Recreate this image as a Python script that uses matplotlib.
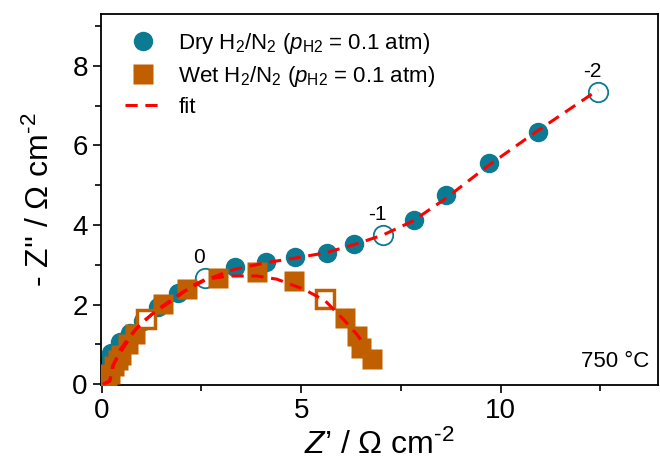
import matplotlib
matplotlib.use("Agg")
import matplotlib.pyplot as plt
from matplotlib.ticker import MultipleLocator

plt.rcParams['font.family'] = ['Liberation Sans', 'DejaVu Sans']
plt.rcParams['mathtext.fontset'] = 'custom'
plt.rcParams['mathtext.rm'] = 'Liberation Sans'
plt.rcParams['mathtext.it'] = 'Liberation Sans:italic'

# Nyquist data at 750 °C (Z' and -Z'' in ohm cm^2)
dry_x = [0.0, 0.03, 0.1, 0.22, 0.45, 0.70, 1.04, 1.41, 1.92, 2.59, 3.34, 4.12,
         4.85, 5.65, 6.33, 7.05, 7.84, 8.64, 9.72, 10.95, 12.44]
dry_y = [0.05, 0.25, 0.5, 0.78, 1.05, 1.3, 1.59, 1.95, 2.3, 2.67, 2.94, 3.08,
         3.2, 3.3, 3.52, 3.76, 4.12, 4.75, 5.55, 6.35, 7.35]
dry_open = [9, 15, 20]           # decade markers (log f = 0, -1, -2)
dry_decades = ['0', '-1', '-2']

wet_x = [0.05, 0.12, 0.2, 0.3, 0.4, 0.49, 0.66, 0.83, 1.12, 1.54, 2.13, 2.92,
         3.89, 4.81, 5.6, 6.1, 6.4, 6.5, 6.78]
wet_y = [0.02, 0.08, 0.25, 0.45, 0.6, 0.73, 1.0, 1.26, 1.63, 2.01, 2.39, 2.68,
         2.81, 2.6, 2.14, 1.67, 1.21, 0.92, 0.63]
wet_open = [8, 14]

fit_dry_x = [0.03, 0.2, 0.3, 0.45, 0.7, 1.0, 1.5, 2.0, 2.6, 3.3, 4.1, 4.9, 5.6,
             6.3, 7.05, 7.8, 8.6, 9.7, 10.9, 12.45]
fit_dry_y = [0.0, 0.08, 0.5, 0.85, 1.2, 1.55, 1.95, 2.3, 2.62, 2.88, 3.05, 3.18,
             3.3, 3.5, 3.75, 4.1, 4.65, 5.5, 6.35, 7.4]
fit_wet_x = [0.03, 0.2, 0.27, 0.52, 0.85, 1.26, 1.76, 2.26, 2.6, 3.2, 3.89, 4.39,
             5.06, 5.6, 6.06, 6.4, 6.6]
fit_wet_y = [0.0, 0.08, 0.46, 0.88, 1.38, 1.76, 2.1, 2.47, 2.64, 2.72, 2.72, 2.64,
             2.39, 2.1, 1.63, 1.25, 0.97]

teal = '#0b7b93'
orange = '#bf5f00'

fig = plt.figure(figsize=(6.6, 4.73), dpi=100)
ax = fig.add_axes([0.153, 0.186, 0.844, 0.784])

dry_fill = [i for i in range(len(dry_x)) if i not in dry_open]
wet_fill = [i for i in range(len(wet_x)) if i not in wet_open]

ax.plot([dry_x[i] for i in dry_fill], [dry_y[i] for i in dry_fill], 'o', color=teal,
        ms=14, mec='none', label=r'Dry H$_2$/N$_2$ ($p_{\mathrm{H2}}$ = 0.1 atm)', zorder=2)
ax.plot([dry_x[i] for i in dry_open], [dry_y[i] for i in dry_open], 'o', mfc='white',
        mec=teal, mew=1.3, ms=14, zorder=2)
ax.plot([wet_x[i] for i in wet_fill], [wet_y[i] for i in wet_fill], 's', color=orange,
        ms=14, mec='none', label=r'Wet H$_2$/N$_2$ ($p_{\mathrm{H2}}$ = 0.1 atm)', zorder=3)
ax.plot([wet_x[i] for i in wet_open], [wet_y[i] for i in wet_open], 's', mfc='white',
        mec=orange, mew=2.5, ms=13, zorder=3)

ax.plot(fit_dry_x, fit_dry_y, '--', color='red', lw=2.2, dashes=(4, 2.5), label='fit', zorder=4)
ax.plot(fit_wet_x, fit_wet_y, '--', color='red', lw=2.2, dashes=(4, 2.5), zorder=4)

for i, txt in zip(dry_open, dry_decades):
    ax.annotate(txt, (dry_x[i], dry_y[i]), xytext=(-4, 8), textcoords='offset points',
                ha='center', va='bottom', fontsize=15)

ax.text(0.985, 0.035, '750 °C', transform=ax.transAxes, ha='right', va='bottom', fontsize=16)

ax.set_xlim(-0.02, 13.95)
ax.set_ylim(-0.02, 9.3)
ax.xaxis.set_major_locator(MultipleLocator(5))
ax.xaxis.set_minor_locator(MultipleLocator(2.5))
ax.yaxis.set_major_locator(MultipleLocator(2))
ax.yaxis.set_minor_locator(MultipleLocator(1))
ax.tick_params(which='both', direction='out', top=False, right=False, labelsize=20, width=1.2)
ax.tick_params(which='major', length=6)
ax.tick_params(which='minor', length=4)
for s in ax.spines.values():
    s.set_linewidth(1.3)

ax.set_xlabel(r"$\it{Z}$’ / Ω cm$^{\text{-2}}$", fontsize=23, labelpad=4)
ax.set_ylabel(r"- Z'' / Ω cm$^{\text{-2}}$", fontsize=23, labelpad=12)

ax.legend(loc='upper left', bbox_to_anchor=(0.027, 0.978), frameon=False, fontsize=16,
          handlelength=1.6, handletextpad=0.8, labelspacing=0.35, borderaxespad=0.0,
          borderpad=0.4)

fig.savefig('out.png', dpi=100)
